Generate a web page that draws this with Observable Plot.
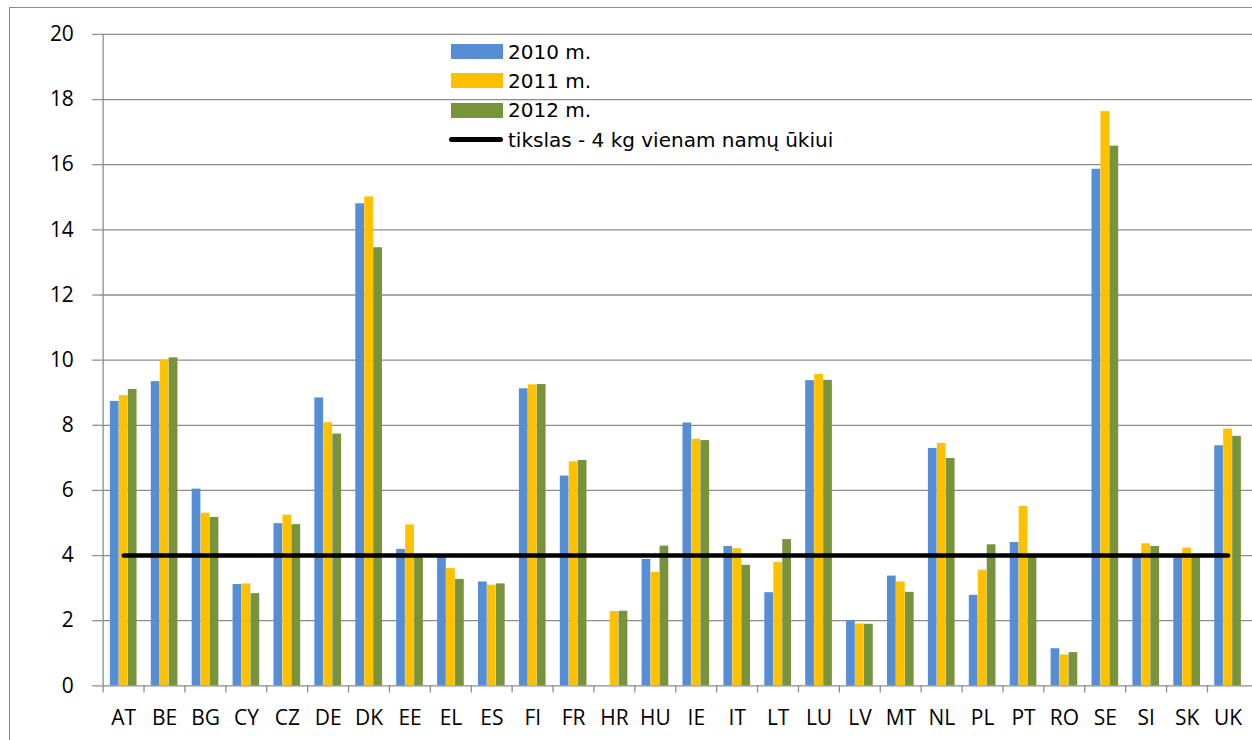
<!DOCTYPE html>
<html><head><meta charset="utf-8">
<script src="https://cdn.jsdelivr.net/npm/d3@7"></script>
<script src="https://cdn.jsdelivr.net/npm/@observablehq/plot@0.6"></script>
<style>
html,body{margin:0;padding:0;background:#fff;overflow:hidden;width:1252px;height:740px}
#wrap{position:relative;width:1252px;height:740px;overflow:hidden}
#border{position:absolute;left:9px;top:7px;width:1400px;height:900px;border:1.5px solid #8c8c8c;box-sizing:border-box}
#chart{position:absolute;left:0;top:0}
#legend{position:absolute;left:449px;top:37px;font-family:"DejaVu Sans";font-size:20px;color:#000}
.row{height:29.3px;display:flex;align-items:center;white-space:nowrap}
.sw{width:52px;height:15px;margin-left:2px;margin-right:5px}
.ln{width:54px;height:5px;border-radius:3px;background:#000;margin-right:5px}
</style></head>
<body><div id="wrap"><div id="border"></div><div id="chart"></div><div id="legend"></div></div>
<script>
const countries = ["AT","BE","BG","CY","CZ","DE","DK","EE","EL","ES","FI","FR","HR","HU","IE","IT","LT","LU","LV","MT","NL","PL","PT","RO","SE","SI","SK","UK"];
const v2010 = [8.73,9.34,6.04,3.11,4.98,8.84,14.80,4.19,3.97,3.19,9.12,6.44,null,3.88,8.07,4.28,2.86,9.37,2.00,3.37,7.29,2.78,4.40,1.14,15.86,3.95,3.95,7.37];
const v2011 = [8.91,9.99,5.30,3.13,5.24,8.08,15.01,4.94,3.60,3.09,9.24,6.88,2.28,3.48,7.57,4.21,3.79,9.56,1.90,3.19,7.44,3.55,5.51,0.95,17.63,4.36,4.23,7.88];
const v2012 = [9.10,10.07,5.17,2.83,4.95,7.73,13.45,3.95,3.27,3.13,9.25,6.92,2.29,4.29,7.53,3.70,4.49,9.38,1.89,2.87,6.98,4.33,3.95,1.02,16.57,4.28,3.95,7.66];
const seriesNames = ["2010 m.","2011 m.","2012 m."];
const seriesColors = ["#558ed5","#ffc000","#77933c"];
const targetValue = 4;
const targetLabel = "tikslas - 4 kg vienam namų ūkiui";
const yTicks = [0,2,4,6,8,10,12,14,16,18,20];

const W = 1255, ML = 99.5, MR = 0;
const step = (W - ML - MR) / countries.length;
const barW = 9;
const inset = (step - barW) / 2;
const gridColor = "#8c8c8c";

const series = [v2010, v2011, v2012].map((vals, i) =>
  countries.map((c, j) => ({country: c, value: vals[j], series: seriesNames[i]})));
const targetRows = countries.map(c => ({country: c, value: targetValue}));

const marks = [
  Plot.gridY(yTicks, {stroke: gridColor, strokeOpacity: 1, strokeWidth: 1.3}),
  Plot.axisY(yTicks, {tickSize: 7, tickPadding: 19, stroke: gridColor, strokeWidth: 1.3, fill: "#000", label: null}),
  Plot.ruleX([countries[0]], {x: d => d, dx: -step / 2, y1: 0, y2: 20, stroke: gridColor, strokeWidth: 1.3}),
  Plot.ruleX(countries, {x: d => d, dx: -step / 2, y1: 0, y2: -0.22, stroke: gridColor, strokeWidth: 1.3}),
  Plot.axisX({tickSize: 0, tickPadding: 24, fill: "#000", label: null}),
  ...series.map((rows, i) => Plot.barY(rows, {
    x: "country", y: "value", fill: seriesColors[i],
    insetLeft: inset, insetRight: inset, dx: (i - 1) * barW
  })),
  Plot.lineY(targetRows, {x: "country", y: "value", stroke: "#000", strokeWidth: 4.5, strokeLinecap: "round"})
];

const chart = Plot.plot({
  width: W, height: 740,
  marginLeft: ML, marginRight: MR, marginTop: 34, marginBottom: 53,
  x: {type: "band", domain: countries, padding: 0},
  y: {domain: [0, 20]},
  style: {fontFamily: "'Open Sans'", fontSize: "21px", background: "transparent", color: "#000", overflow: "visible"},
  marks
});
document.getElementById("chart").appendChild(chart);

const legend = document.getElementById("legend");
seriesNames.forEach((n, i) => {
  const r = document.createElement("div"); r.className = "row";
  const s = document.createElement("div"); s.className = "sw"; s.style.background = seriesColors[i];
  r.appendChild(s); r.appendChild(document.createTextNode(n)); legend.appendChild(r);
});
{
  const r = document.createElement("div"); r.className = "row";
  const s = document.createElement("div"); s.className = "ln";
  r.appendChild(s); r.appendChild(document.createTextNode(targetLabel)); legend.appendChild(r);
}
</script>
</body></html>
